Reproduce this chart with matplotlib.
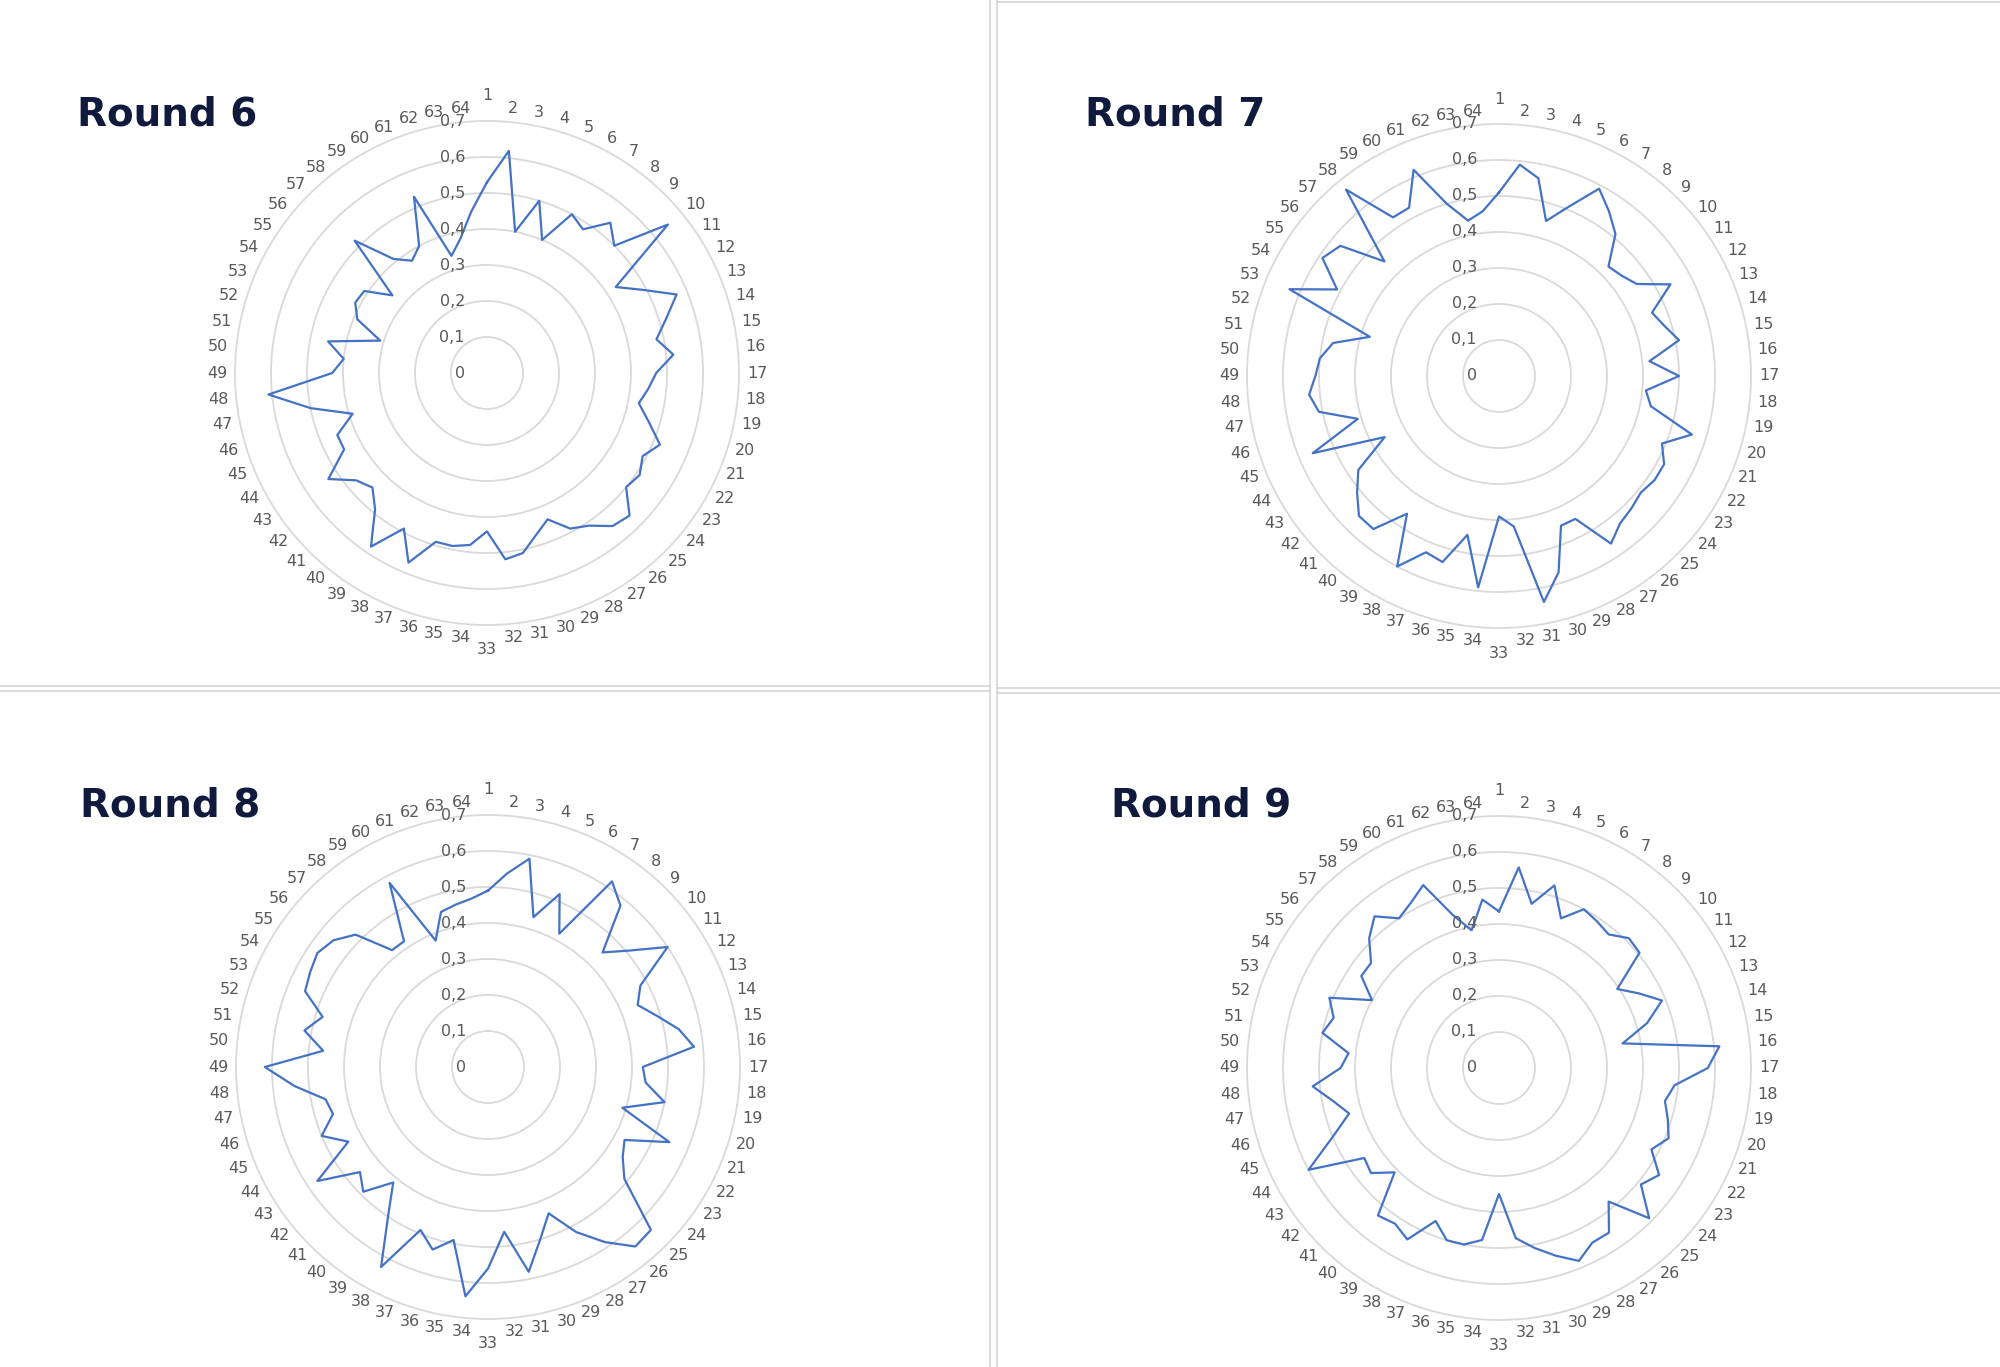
"""四个雷达图 - Round 6 ~ Round 9 (64 个类别)"""
import matplotlib
matplotlib.use('Agg')
import matplotlib.pyplot as plt
import matplotlib.transforms as mtransforms
from matplotlib.lines import Line2D
import numpy as np

# 类别 1..64
categories = [str(i) for i in range(1, 65)]

round6 = [0.53, 0.62, 0.40, 0.50, 0.40, 0.50, 0.48, 0.54, 0.50, 0.65,
          0.43, 0.49, 0.57, 0.52, 0.48, 0.52, 0.47, 0.45, 0.43, 0.47,
          0.52, 0.49, 0.51, 0.50, 0.56, 0.55, 0.51, 0.49, 0.44, 0.47,
          0.51, 0.52, 0.44, 0.48, 0.49, 0.49, 0.57, 0.49, 0.58, 0.49,
          0.45, 0.47, 0.53, 0.45, 0.45, 0.39, 0.50, 0.61, 0.43, 0.40,
          0.45, 0.31, 0.39, 0.415, 0.41, 0.34, 0.52, 0.41, 0.375, 0.40,
          0.53, 0.34, 0.38, 0.45]

round7 = [0.51, 0.59, 0.56, 0.45, 0.51, 0.59, 0.55, 0.51, 0.43, 0.44,
          0.46, 0.54, 0.46, 0.48, 0.51, 0.42, 0.50, 0.41, 0.43, 0.56,
          0.49, 0.52, 0.52, 0.51, 0.52, 0.53, 0.56, 0.45, 0.45, 0.57,
          0.64, 0.42, 0.39, 0.59, 0.45, 0.54, 0.53, 0.60, 0.46, 0.55,
          0.55, 0.51, 0.47, 0.36, 0.56, 0.41, 0.51, 0.53, 0.51, 0.50,
          0.47, 0.375, 0.63, 0.51, 0.59, 0.57, 0.45, 0.67, 0.53, 0.53,
          0.62, 0.50, 0.44, 0.46]

round8 = [0.49, 0.54, 0.59, 0.435, 0.52, 0.42, 0.62, 0.58, 0.45, 0.51,
          0.60, 0.48, 0.45, 0.49, 0.54, 0.575, 0.43, 0.44, 0.50, 0.39,
          0.545, 0.43, 0.45, 0.49, 0.64, 0.645, 0.585, 0.52, 0.44, 0.50,
          0.58, 0.46, 0.56, 0.64, 0.49, 0.53, 0.49, 0.63, 0.50, 0.415,
          0.49, 0.46, 0.57, 0.44, 0.50, 0.45, 0.46, 0.54, 0.62, 0.46,
          0.52, 0.48, 0.55, 0.56, 0.57, 0.555, 0.52, 0.42, 0.42, 0.58,
          0.38, 0.45, 0.46, 0.47]

round9 = [0.435, 0.56, 0.465, 0.53, 0.45, 0.50, 0.49, 0.48, 0.51, 0.505,
          0.395, 0.44, 0.49, 0.43, 0.35, 0.615, 0.58, 0.49, 0.47, 0.49,
          0.51, 0.48, 0.535, 0.51, 0.59, 0.48, 0.55, 0.55, 0.58, 0.545,
          0.51, 0.475, 0.35, 0.48, 0.50, 0.50, 0.46, 0.54, 0.52, 0.53,
          0.41, 0.46, 0.45, 0.60, 0.50, 0.435, 0.47, 0.52, 0.44, 0.42,
          0.50, 0.48, 0.51, 0.40, 0.46, 0.46, 0.51, 0.545, 0.50, 0.52,
          0.55, 0.445, 0.39, 0.47]

r_ticks = [0.1, 0.2, 0.3, 0.4, 0.5, 0.6, 0.7]
r_labels = ['0', '0,1', '0,2', '0,3', '0,4', '0,5', '0,6', '0,7']

# 每个图: 标题, 数据, 圆心(像素), 标题位置(像素)
charts = [
    ('Round 6', round6, (487, 373), (77, 126)),
    ('Round 7', round7, (1499, 376), (1085, 126)),
    ('Round 8', round8, (488, 1067), (80, 816)),
    ('Round 9', round9, (1499, 1068), (1111, 816)),
]

W, H = 2000, 1367
R = 252  # 0.7 圆的半径(像素)
grid_color = '#d9d9d9'
text_color = '#595959'
line_color = '#4472c4'

fig = plt.figure(figsize=(W / 100, H / 100), dpi=100)
fig.patch.set_facecolor('white')

n = len(categories)
angles = np.arange(n) * 2 * np.pi / n

for title, values, (cx, cy), (tx, ty) in charts:
    ax = fig.add_axes([(cx - R) / W, 1 - (cy + R) / H, 2 * R / W, 2 * R / H],
                      projection='polar')
    ax.set_theta_zero_location('N')
    ax.set_theta_direction(-1)
    ax.set_ylim(0, 0.7)
    ax.set_yticks(r_ticks[:-1])
    ax.set_yticklabels([])
    ax.set_xticks([])
    ax.yaxis.grid(True, color=grid_color, linewidth=1.3)
    ax.xaxis.grid(False)
    ax.spines['polar'].set_color(grid_color)
    ax.spines['polar'].set_linewidth(1.3)
    ax.set_facecolor('none')

    # 数据折线(闭合)
    th = np.append(angles, angles[0])
    vv = np.append(values, values[0])
    ax.plot(th, vv, color=line_color, linewidth=1.6)

    # 径向刻度标签
    off = mtransforms.offset_copy(ax.transData, fig=fig, x=-22, y=0, units='dots')
    for r, lab in zip([0.0] + r_ticks, r_labels):
        ax.text(0, r, lab, transform=off, ha='right', va='center',
                fontsize=11.5, color=text_color, family='DejaVu Sans')

    # 类别标签: 贴着外圈 (椭圆形偏移, 顶部和底部的标签再往外一点)
    for a, lab in zip(angles, categories):
        s, c = np.sin(a), np.cos(a)
        half_w = 5 * len(lab)
        half_h = 6
        extra = 11 if abs(s) < 1e-6 else 0
        dx = (260 - R + half_w) * s
        dy = (260 - R + half_h + extra) * c
        t = mtransforms.offset_copy(ax.transData, fig=fig, x=dx, y=dy, units='dots')
        ax.text(a, 0.7, lab, transform=t, ha='center', va='center',
                fontsize=11.5, color=text_color, family='DejaVu Sans')

    fig.text(tx / W, 1 - ty / H, title, ha='left', va='baseline',
             fontsize=28, fontweight='bold', color='#0f1a3c',
             family='DejaVu Sans')

# 分隔线(双线)
def hline(y, x0, x1):
    fig.add_artist(Line2D([x0 / W, x1 / W], [1 - y / H, 1 - y / H],
                          transform=fig.transFigure, color='#d4d4d4', linewidth=1.2))

def vline(x, y0, y1):
    fig.add_artist(Line2D([x / W, x / W], [1 - y0 / H, 1 - y1 / H],
                          transform=fig.transFigure, color='#d4d4d4', linewidth=1.2))

vline(990, 0, H)
vline(997, 0, H)
hline(686, 0, 990)
hline(691, 0, 990)
hline(688, 997, W)
hline(693, 997, W)
hline(2, 997, W)

fig.savefig('out.png', dpi=100, facecolor='white')
